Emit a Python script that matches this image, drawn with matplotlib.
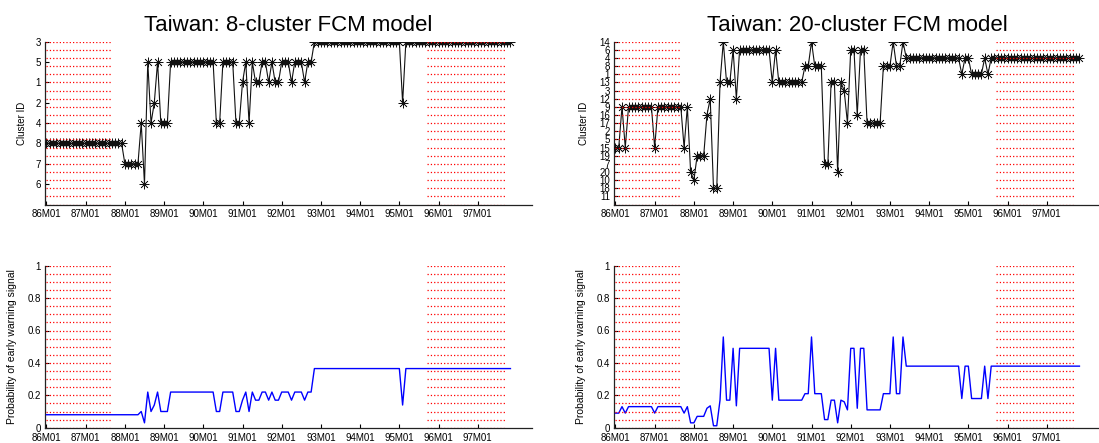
import matplotlib
matplotlib.use("Agg")
import matplotlib.pyplot as plt
import numpy as np

plt.rcParams['font.family'] = ['Liberation Sans', 'DejaVu Sans']

# Monthly cluster assignment, 86M01 .. 97M11 (one row per year)
clusters_8 = [
    8, 8, 8, 8, 8, 8, 8, 8, 8, 8, 8, 8,
    8, 8, 8, 8, 8, 8, 8, 8, 8, 8, 8, 8,
    7, 7, 7, 7, 7, 4, 6, 5, 4, 2, 5, 4,
    4, 4, 5, 5, 5, 5, 5, 5, 5, 5, 5, 5,
    5, 5, 5, 5, 4, 4, 5, 5, 5, 5, 4, 4,
    1, 5, 4, 5, 1, 1, 5, 5, 1, 5, 1, 1,
    5, 5, 5, 1, 5, 5, 5, 1, 5, 5, 3, 3,
    3, 3, 3, 3, 3, 3, 3, 3, 3, 3, 3, 3,
    3, 3, 3, 3, 3, 3, 3, 3, 3, 3, 3, 3,
    3, 2, 3, 3, 3, 3, 3, 3, 3, 3, 3, 3,
    3, 3, 3, 3, 3, 3, 3, 3, 3, 3, 3, 3,
    3, 3, 3, 3, 3, 3, 3, 3, 3, 3, 3,
]

clusters_20 = [
    15, 15, 9, 15, 9, 9, 9, 9, 9, 9, 9, 9,
    15, 9, 9, 9, 9, 9, 9, 9, 9, 15, 9, 20,
    10, 19, 19, 19, 16, 12, 18, 18, 13, 14, 13, 13,
    6, 12, 6, 6, 6, 6, 6, 6, 6, 6, 6, 6,
    13, 6, 13, 13, 13, 13, 13, 13, 13, 13, 8, 8,
    14, 8, 8, 8, 7, 7, 13, 13, 20, 13, 3, 17,
    6, 6, 16, 6, 6, 17, 17, 17, 17, 17, 8, 8,
    8, 14, 8, 8, 14, 4, 4, 4, 4, 4, 4, 4,
    4, 4, 4, 4, 4, 4, 4, 4, 4, 4, 1, 4,
    4, 1, 1, 1, 1, 4, 1, 4, 4, 4, 4, 4,
    4, 4, 4, 4, 4, 4, 4, 4, 4, 4, 4, 4,
    4, 4, 4, 4, 4, 4, 4, 4, 4, 4, 4,
]

# Cluster ordering on the vertical axis, bottom to top
order_8 = [6, 7, 8, 4, 2, 1, 5, 3]
order_20 = [11, 18, 10, 20, 7, 19, 15, 5, 2, 17, 16, 9, 12, 3, 13, 1, 8, 4, 6, 14]

# Early-warning probability attached to each cluster (cluster id 1..N)
prob_8 = [0.17, 0.14, 0.365, 0.10, 0.22, 0.03, 0.08, 0.08]
prob_20 = [0.18, np.nan, 0.16, 0.38, np.nan, 0.49, 0.05, 0.21, 0.13, 0.03,
           np.nan, 0.135, 0.17, 0.56, 0.09, 0.12, 0.11, 0.012, 0.07, 0.03]

# Crisis windows (month index)
window_start = [1.0, 117.4]
window_end = [20.6, 141.2]

tick_months = [1, 13, 25, 37, 49, 61, 73, 85, 97, 109, 121, 133]
tick_labels = ['86M01', '87M01', '88M01', '89M01', '90M01', '91M01',
               '92M01', '93M01', '94M01', '95M01', '96M01', '97M01']

titles = ['Taiwan: 8-cluster FCM model', 'Taiwan: 20-cluster FCM model']

W, H = 1099, 443
fig = plt.figure(figsize=(W / 100, H / 100), dpi=100)


def add_axes(l, t, r, b):
    return fig.add_axes([l / W, 1 - b / H, (r - l) / W, (b - t) / H])


def style(ax):
    for s in ('top', 'right'):
        ax.spines[s].set_visible(False)
    for s in ('left', 'bottom'):
        ax.spines[s].set_linewidth(0.9)
        ax.spines[s].set_color('#222222')
    ax.tick_params(direction='in', length=3, width=0.8, labelsize=7)
    ax.tick_params(axis='x', pad=3.5)
    ax.tick_params(axis='y', pad=3)
    ax.set_xlim(0.55, 149.6)
    ax.set_xticks(tick_months)
    ax.set_xticklabels(tick_labels)


def windows(ax, lo, hi):
    levels = np.linspace(lo, hi, 21)
    for s, e in zip(window_start, window_end):
        ax.hlines(levels, s, e, colors='red', linestyles=':', linewidth=0.9,
                  zorder=5)


ax_tl = add_axes(45, 41.7, 532, 204.5)
ax_bl = add_axes(45, 265.7, 532, 427.7)
ax_tr = add_axes(614, 41.7, 1101, 204.5)
ax_br = add_axes(614, 265.7, 1101, 427.7)

panels = [
    (ax_tl, ax_bl, clusters_8, order_8, prob_8, titles[0], -0.037, -0.0575),
    (ax_tr, ax_br, clusters_20, order_20, prob_20, titles[1], -0.051, -0.0575),
]

for ax_c, ax_p, seq, order, prob, title, lab_c, lab_p in panels:
    months = np.arange(1, len(seq) + 1)
    rank = [order.index(c) + 1 for c in seq]
    p = [prob[c - 1] for c in seq]
    n = len(order)

    style(ax_c)
    ax_c.plot(months, rank, color='#111111', linewidth=0.8,
              marker=(8, 2, 0), markersize=7, markeredgewidth=0.5, zorder=3)
    ax_c.set_ylim(0, n)
    ax_c.set_yticks(np.arange(1, n + 1))
    ax_c.set_yticklabels([str(c) for c in order])
    ax_c.set_ylabel('Cluster ID', fontsize=7)
    ax_c.yaxis.set_label_coords(lab_c, 0.5)
    ax_c.set_title(title, fontsize=16, pad=7.5)
    windows(ax_c, 0, n)

    style(ax_p)
    ax_p.plot(months, p, color='blue', linewidth=1.0, zorder=3)
    ax_p.set_ylim(0, 1)
    ax_p.set_yticks([0, 0.2, 0.4, 0.6, 0.8, 1])
    ax_p.set_yticklabels(['0', '0.2', '0.4', '0.6', '0.8', '1'])
    ax_p.set_ylabel('Probability of early warning signal', fontsize=7.5)
    ax_p.yaxis.set_label_coords(lab_p, 0.5)
    windows(ax_p, 0, 1)

fig.savefig('out.png', dpi=100)
